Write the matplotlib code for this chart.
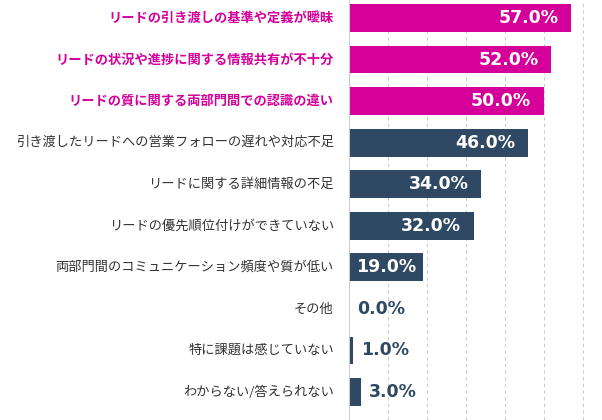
import matplotlib
matplotlib.use('Agg')
import matplotlib.pyplot as plt

plt.rcParams['font.family'] = ['Noto Sans CJK JP', 'DejaVu Sans']

categories = [
    'リードの引き渡しの基準や定義が曖昧',
    'リードの状況や進捗に関する情報共有が不十分',
    'リードの質に関する両部門間での認識の違い',
    '引き渡したリードへの営業フォローの遅れや対応不足',
    'リードに関する詳細情報の不足',
    'リードの優先順位付けができていない',
    '両部門間のコミュニケーション頻度や質が低い',
    'その他',
    '特に課題は感じていない',
    'わからない/答えられない',
]
values = [57.0, 52.0, 50.0, 46.0, 34.0, 32.0, 19.0, 0.0, 1.0, 3.0]
highlight = [True, True, True, False, False, False, False, False, False, False]

MAGENTA = '#D5009A'
NAVY = '#2F4864'
TEXT = '#333333'

fig = plt.figure(figsize=(6.02, 4.2), dpi=100)
ax = fig.add_axes([0.58, 0.0, 0.42, 1.0])

ypos = list(range(len(values)))
colors = [MAGENTA if h else NAVY for h in highlight]
ax.barh(ypos, values, height=0.67, color=colors, zorder=3)

ax.set_xlim(0, 65)
ax.set_ylim(9.673, -0.433)

for x in range(10, 61, 10):
    ax.axvline(x, color='#cccccc', lw=0.8, ls=(0, (3, 3)), zorder=1)
ax.axvline(0, color='#c8ccd2', lw=1.5, zorder=4)

for spine in ax.spines.values():
    spine.set_visible(False)
ax.set_xticks([])
ax.set_yticks([])

num_font = dict(family='DejaVu Sans', fontsize=12.5, fontweight='bold')

for i, (cat, v, h) in enumerate(zip(categories, values, highlight)):
    ax.annotate(cat, (0, i), xytext=(-11, 0), textcoords='offset points',
                ha='right', va='center', fontsize=9.5,
                color=MAGENTA if h else TEXT,
                fontweight='bold' if h else 'normal',
                annotation_clip=False)
    label = f'{v:.1f}%'
    if v >= 25:
        ax.annotate(label, (v, i), xytext=(-9, 0), textcoords='offset points',
                    ha='right', va='center', color='white', zorder=5, **num_font)
    elif v >= 15:
        ax.annotate(label, (v / 2, i), ha='center', va='center',
                    color='white', zorder=5, **num_font)
    else:
        ax.annotate(label, (v, i), xytext=(6, 0), textcoords='offset points',
                    ha='left', va='center', color=NAVY, zorder=5, **num_font)

fig.savefig('out.png', dpi=100)
